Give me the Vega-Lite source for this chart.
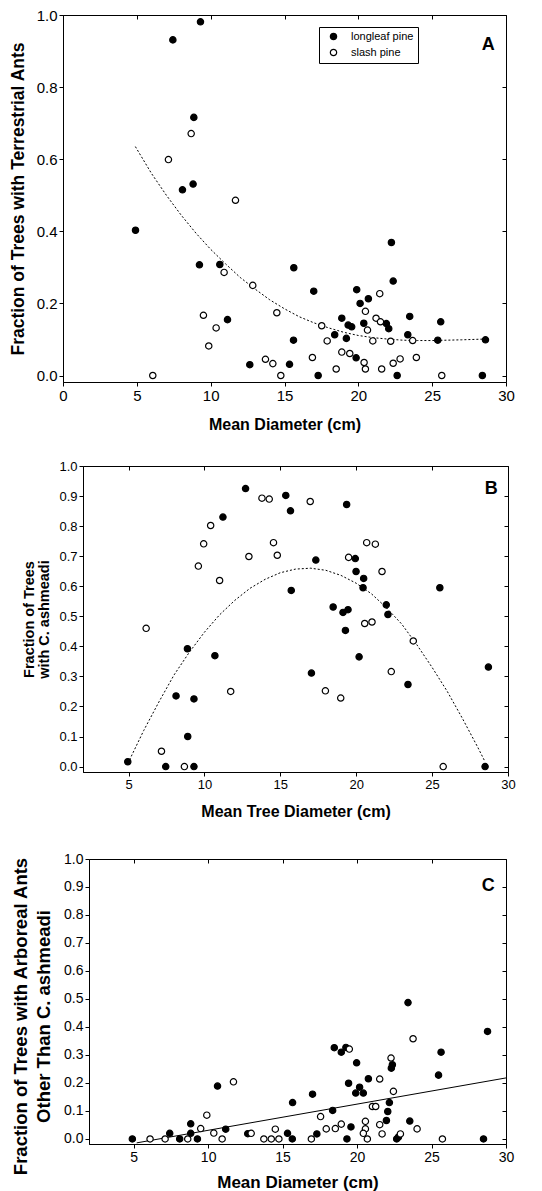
{
  "$schema": "https://vega.github.io/schema/vega-lite/v6.json",
  "background": "white",
  "padding": {"left": 0, "top": 7, "right": 0, "bottom": 0},
  "config": {
    "view": {"stroke": "black", "strokeWidth": 1},
    "font": "Liberation Sans",
    "axis": {"grid": false, "domainColor": "black", "tickColor": "black", "labelColor": "black", "titleColor": "black", "labelFont": "Liberation Sans", "titleFont": "Liberation Sans", "titleFontWeight": "bold", "tickSize": 4, "labelPadding": 2, "labelFlush": false, "labelOverlap": false}
  },
  "datasets": {
    "ptsA": [
      {"diameter": 7.44, "fraction": 0.931, "pine": "longleaf pine"},
      {"diameter": 9.31, "fraction": 0.981, "pine": "longleaf pine"},
      {"diameter": 8.86, "fraction": 0.716, "pine": "longleaf pine"},
      {"diameter": 8.09, "fraction": 0.515, "pine": "longleaf pine"},
      {"diameter": 8.81, "fraction": 0.531, "pine": "longleaf pine"},
      {"diameter": 4.91, "fraction": 0.403, "pine": "longleaf pine"},
      {"diameter": 9.24, "fraction": 0.307, "pine": "longleaf pine"},
      {"diameter": 10.62, "fraction": 0.308, "pine": "longleaf pine"},
      {"diameter": 11.14, "fraction": 0.155, "pine": "longleaf pine"},
      {"diameter": 12.65, "fraction": 0.03, "pine": "longleaf pine"},
      {"diameter": 15.34, "fraction": 0.031, "pine": "longleaf pine"},
      {"diameter": 15.63, "fraction": 0.299, "pine": "longleaf pine"},
      {"diameter": 15.61, "fraction": 0.098, "pine": "longleaf pine"},
      {"diameter": 16.98, "fraction": 0.234, "pine": "longleaf pine"},
      {"diameter": 17.28, "fraction": 0.0, "pine": "longleaf pine"},
      {"diameter": 18.4, "fraction": 0.113, "pine": "longleaf pine"},
      {"diameter": 18.88, "fraction": 0.159, "pine": "longleaf pine"},
      {"diameter": 19.19, "fraction": 0.103, "pine": "longleaf pine"},
      {"diameter": 19.31, "fraction": 0.14, "pine": "longleaf pine"},
      {"diameter": 19.55, "fraction": 0.135, "pine": "longleaf pine"},
      {"diameter": 19.85, "fraction": 0.049, "pine": "longleaf pine"},
      {"diameter": 19.89, "fraction": 0.238, "pine": "longleaf pine"},
      {"diameter": 20.12, "fraction": 0.2, "pine": "longleaf pine"},
      {"diameter": 20.37, "fraction": 0.145, "pine": "longleaf pine"},
      {"diameter": 20.68, "fraction": 0.213, "pine": "longleaf pine"},
      {"diameter": 21.9, "fraction": 0.144, "pine": "longleaf pine"},
      {"diameter": 22.06, "fraction": 0.13, "pine": "longleaf pine"},
      {"diameter": 22.24, "fraction": 0.369, "pine": "longleaf pine"},
      {"diameter": 22.36, "fraction": 0.262, "pine": "longleaf pine"},
      {"diameter": 22.63, "fraction": 0.0, "pine": "longleaf pine"},
      {"diameter": 23.35, "fraction": 0.113, "pine": "longleaf pine"},
      {"diameter": 23.48, "fraction": 0.164, "pine": "longleaf pine"},
      {"diameter": 25.38, "fraction": 0.098, "pine": "longleaf pine"},
      {"diameter": 25.58, "fraction": 0.149, "pine": "longleaf pine"},
      {"diameter": 28.4, "fraction": 0.0, "pine": "longleaf pine"},
      {"diameter": 28.61, "fraction": 0.099, "pine": "longleaf pine"},
      {"diameter": 8.68, "fraction": 0.671, "pine": "slash pine"},
      {"diameter": 7.14, "fraction": 0.599, "pine": "slash pine"},
      {"diameter": 11.68, "fraction": 0.486, "pine": "slash pine"},
      {"diameter": 6.08, "fraction": 0.0, "pine": "slash pine"},
      {"diameter": 10.91, "fraction": 0.286, "pine": "slash pine"},
      {"diameter": 9.51, "fraction": 0.167, "pine": "slash pine"},
      {"diameter": 10.37, "fraction": 0.132, "pine": "slash pine"},
      {"diameter": 9.87, "fraction": 0.082, "pine": "slash pine"},
      {"diameter": 12.85, "fraction": 0.25, "pine": "slash pine"},
      {"diameter": 13.71, "fraction": 0.045, "pine": "slash pine"},
      {"diameter": 14.21, "fraction": 0.033, "pine": "slash pine"},
      {"diameter": 14.48, "fraction": 0.174, "pine": "slash pine"},
      {"diameter": 14.75, "fraction": 0.0, "pine": "slash pine"},
      {"diameter": 16.89, "fraction": 0.05, "pine": "slash pine"},
      {"diameter": 17.52, "fraction": 0.138, "pine": "slash pine"},
      {"diameter": 17.89, "fraction": 0.096, "pine": "slash pine"},
      {"diameter": 18.5, "fraction": 0.018, "pine": "slash pine"},
      {"diameter": 18.88, "fraction": 0.065, "pine": "slash pine"},
      {"diameter": 19.42, "fraction": 0.061, "pine": "slash pine"},
      {"diameter": 20.39, "fraction": 0.036, "pine": "slash pine"},
      {"diameter": 20.48, "fraction": 0.178, "pine": "slash pine"},
      {"diameter": 20.48, "fraction": 0.018, "pine": "slash pine"},
      {"diameter": 20.62, "fraction": 0.126, "pine": "slash pine"},
      {"diameter": 20.98, "fraction": 0.096, "pine": "slash pine"},
      {"diameter": 21.2, "fraction": 0.159, "pine": "slash pine"},
      {"diameter": 21.45, "fraction": 0.227, "pine": "slash pine"},
      {"diameter": 21.5, "fraction": 0.149, "pine": "slash pine"},
      {"diameter": 21.58, "fraction": 0.018, "pine": "slash pine"},
      {"diameter": 22.19, "fraction": 0.095, "pine": "slash pine"},
      {"diameter": 22.36, "fraction": 0.034, "pine": "slash pine"},
      {"diameter": 22.83, "fraction": 0.046, "pine": "slash pine"},
      {"diameter": 23.68, "fraction": 0.097, "pine": "slash pine"},
      {"diameter": 23.93, "fraction": 0.05, "pine": "slash pine"},
      {"diameter": 25.65, "fraction": 0.0, "pine": "slash pine"}
    ],
    "fitA": [
      {"diameter": 4.9, "fraction": 0.635},
      {"diameter": 6, "fraction": 0.56},
      {"diameter": 7, "fraction": 0.5},
      {"diameter": 8, "fraction": 0.445},
      {"diameter": 9, "fraction": 0.395},
      {"diameter": 10, "fraction": 0.35},
      {"diameter": 11, "fraction": 0.31},
      {"diameter": 12, "fraction": 0.272},
      {"diameter": 13, "fraction": 0.24},
      {"diameter": 14, "fraction": 0.21},
      {"diameter": 15, "fraction": 0.185},
      {"diameter": 16, "fraction": 0.163},
      {"diameter": 17, "fraction": 0.146},
      {"diameter": 18, "fraction": 0.132},
      {"diameter": 19, "fraction": 0.12},
      {"diameter": 20, "fraction": 0.111},
      {"diameter": 21, "fraction": 0.105},
      {"diameter": 22, "fraction": 0.101},
      {"diameter": 23, "fraction": 0.098},
      {"diameter": 24, "fraction": 0.097},
      {"diameter": 25, "fraction": 0.097},
      {"diameter": 26, "fraction": 0.098},
      {"diameter": 27, "fraction": 0.099},
      {"diameter": 28.5, "fraction": 0.101}
    ],
    "ptsB": [
      {"diameter": 12.71, "fraction": 0.925, "pine": "longleaf pine"},
      {"diameter": 15.36, "fraction": 0.902, "pine": "longleaf pine"},
      {"diameter": 15.67, "fraction": 0.851, "pine": "longleaf pine"},
      {"diameter": 19.37, "fraction": 0.872, "pine": "longleaf pine"},
      {"diameter": 11.22, "fraction": 0.83, "pine": "longleaf pine"},
      {"diameter": 17.34, "fraction": 0.687, "pine": "longleaf pine"},
      {"diameter": 19.94, "fraction": 0.692, "pine": "longleaf pine"},
      {"diameter": 19.99, "fraction": 0.649, "pine": "longleaf pine"},
      {"diameter": 20.49, "fraction": 0.626, "pine": "longleaf pine"},
      {"diameter": 15.72, "fraction": 0.586, "pine": "longleaf pine"},
      {"diameter": 20.45, "fraction": 0.595, "pine": "longleaf pine"},
      {"diameter": 25.51, "fraction": 0.595, "pine": "longleaf pine"},
      {"diameter": 8.88, "fraction": 0.392, "pine": "longleaf pine"},
      {"diameter": 10.69, "fraction": 0.369, "pine": "longleaf pine"},
      {"diameter": 8.13, "fraction": 0.235, "pine": "longleaf pine"},
      {"diameter": 9.31, "fraction": 0.225, "pine": "longleaf pine"},
      {"diameter": 8.9, "fraction": 0.1, "pine": "longleaf pine"},
      {"diameter": 4.95, "fraction": 0.016, "pine": "longleaf pine"},
      {"diameter": 7.45, "fraction": 0.0, "pine": "longleaf pine"},
      {"diameter": 9.31, "fraction": 0.0, "pine": "longleaf pine"},
      {"diameter": 18.48, "fraction": 0.531, "pine": "longleaf pine"},
      {"diameter": 19.13, "fraction": 0.513, "pine": "longleaf pine"},
      {"diameter": 19.46, "fraction": 0.522, "pine": "longleaf pine"},
      {"diameter": 19.29, "fraction": 0.453, "pine": "longleaf pine"},
      {"diameter": 21.98, "fraction": 0.538, "pine": "longleaf pine"},
      {"diameter": 22.09, "fraction": 0.506, "pine": "longleaf pine"},
      {"diameter": 17.05, "fraction": 0.311, "pine": "longleaf pine"},
      {"diameter": 20.19, "fraction": 0.365, "pine": "longleaf pine"},
      {"diameter": 23.41, "fraction": 0.273, "pine": "longleaf pine"},
      {"diameter": 28.49, "fraction": 0.0, "pine": "longleaf pine"},
      {"diameter": 28.71, "fraction": 0.331, "pine": "longleaf pine"},
      {"diameter": 13.79, "fraction": 0.893, "pine": "slash pine"},
      {"diameter": 14.27, "fraction": 0.89, "pine": "slash pine"},
      {"diameter": 16.97, "fraction": 0.882, "pine": "slash pine"},
      {"diameter": 10.41, "fraction": 0.802, "pine": "slash pine"},
      {"diameter": 9.95, "fraction": 0.741, "pine": "slash pine"},
      {"diameter": 9.6, "fraction": 0.667, "pine": "slash pine"},
      {"diameter": 11.0, "fraction": 0.619, "pine": "slash pine"},
      {"diameter": 12.93, "fraction": 0.699, "pine": "slash pine"},
      {"diameter": 14.55, "fraction": 0.745, "pine": "slash pine"},
      {"diameter": 14.8, "fraction": 0.703, "pine": "slash pine"},
      {"diameter": 19.5, "fraction": 0.696, "pine": "slash pine"},
      {"diameter": 20.69, "fraction": 0.745, "pine": "slash pine"},
      {"diameter": 21.26, "fraction": 0.74, "pine": "slash pine"},
      {"diameter": 21.7, "fraction": 0.649, "pine": "slash pine"},
      {"diameter": 6.16, "fraction": 0.46, "pine": "slash pine"},
      {"diameter": 11.73, "fraction": 0.25, "pine": "slash pine"},
      {"diameter": 7.17, "fraction": 0.051, "pine": "slash pine"},
      {"diameter": 8.68, "fraction": 0.0, "pine": "slash pine"},
      {"diameter": 20.56, "fraction": 0.476, "pine": "slash pine"},
      {"diameter": 21.04, "fraction": 0.481, "pine": "slash pine"},
      {"diameter": 23.76, "fraction": 0.418, "pine": "slash pine"},
      {"diameter": 17.97, "fraction": 0.252, "pine": "slash pine"},
      {"diameter": 18.98, "fraction": 0.228, "pine": "slash pine"},
      {"diameter": 22.31, "fraction": 0.316, "pine": "slash pine"},
      {"diameter": 25.73, "fraction": 0.0, "pine": "slash pine"}
    ],
    "fitB": [
      {"diameter": 4.95, "fraction": 0.01},
      {"diameter": 6, "fraction": 0.12},
      {"diameter": 7, "fraction": 0.215},
      {"diameter": 8, "fraction": 0.305},
      {"diameter": 9, "fraction": 0.38},
      {"diameter": 10, "fraction": 0.447},
      {"diameter": 11, "fraction": 0.505},
      {"diameter": 12, "fraction": 0.553},
      {"diameter": 13, "fraction": 0.593},
      {"diameter": 14, "fraction": 0.623},
      {"diameter": 15, "fraction": 0.645},
      {"diameter": 16, "fraction": 0.657},
      {"diameter": 17, "fraction": 0.66},
      {"diameter": 18, "fraction": 0.653},
      {"diameter": 19, "fraction": 0.636},
      {"diameter": 20, "fraction": 0.61},
      {"diameter": 21, "fraction": 0.575},
      {"diameter": 22, "fraction": 0.528},
      {"diameter": 23, "fraction": 0.474},
      {"diameter": 24, "fraction": 0.405},
      {"diameter": 25, "fraction": 0.33},
      {"diameter": 26, "fraction": 0.25},
      {"diameter": 27, "fraction": 0.16},
      {"diameter": 28, "fraction": 0.065},
      {"diameter": 28.45, "fraction": 0.02}
    ],
    "ptsC": [
      {"diameter": 23.42, "fraction": 0.487, "pine": "longleaf pine"},
      {"diameter": 28.76, "fraction": 0.384, "pine": "longleaf pine"},
      {"diameter": 18.47, "fraction": 0.326, "pine": "longleaf pine"},
      {"diameter": 18.94, "fraction": 0.31, "pine": "longleaf pine"},
      {"diameter": 19.25, "fraction": 0.327, "pine": "longleaf pine"},
      {"diameter": 19.97, "fraction": 0.272, "pine": "longleaf pine"},
      {"diameter": 22.37, "fraction": 0.265, "pine": "longleaf pine"},
      {"diameter": 22.3, "fraction": 0.253, "pine": "longleaf pine"},
      {"diameter": 25.64, "fraction": 0.31, "pine": "longleaf pine"},
      {"diameter": 25.47, "fraction": 0.228, "pine": "longleaf pine"},
      {"diameter": 19.43, "fraction": 0.199, "pine": "longleaf pine"},
      {"diameter": 20.17, "fraction": 0.185, "pine": "longleaf pine"},
      {"diameter": 20.76, "fraction": 0.215, "pine": "longleaf pine"},
      {"diameter": 19.91, "fraction": 0.164, "pine": "longleaf pine"},
      {"diameter": 20.42, "fraction": 0.164, "pine": "longleaf pine"},
      {"diameter": 10.63, "fraction": 0.189, "pine": "longleaf pine"},
      {"diameter": 17.01, "fraction": 0.16, "pine": "longleaf pine"},
      {"diameter": 15.67, "fraction": 0.13, "pine": "longleaf pine"},
      {"diameter": 22.17, "fraction": 0.13, "pine": "longleaf pine"},
      {"diameter": 18.36, "fraction": 0.102, "pine": "longleaf pine"},
      {"diameter": 22.06, "fraction": 0.098, "pine": "longleaf pine"},
      {"diameter": 21.97, "fraction": 0.066, "pine": "longleaf pine"},
      {"diameter": 23.54, "fraction": 0.064, "pine": "longleaf pine"},
      {"diameter": 8.83, "fraction": 0.054, "pine": "longleaf pine"},
      {"diameter": 19.59, "fraction": 0.043, "pine": "longleaf pine"},
      {"diameter": 11.18, "fraction": 0.035, "pine": "longleaf pine"},
      {"diameter": 7.42, "fraction": 0.02, "pine": "longleaf pine"},
      {"diameter": 8.83, "fraction": 0.02, "pine": "longleaf pine"},
      {"diameter": 12.66, "fraction": 0.019, "pine": "longleaf pine"},
      {"diameter": 15.33, "fraction": 0.02, "pine": "longleaf pine"},
      {"diameter": 17.3, "fraction": 0.018, "pine": "longleaf pine"},
      {"diameter": 22.78, "fraction": 0.007, "pine": "longleaf pine"},
      {"diameter": 4.91, "fraction": 0.0, "pine": "longleaf pine"},
      {"diameter": 8.09, "fraction": 0.0, "pine": "longleaf pine"},
      {"diameter": 9.28, "fraction": 0.0, "pine": "longleaf pine"},
      {"diameter": 15.65, "fraction": 0.0, "pine": "longleaf pine"},
      {"diameter": 19.32, "fraction": 0.0, "pine": "longleaf pine"},
      {"diameter": 22.66, "fraction": 0.0, "pine": "longleaf pine"},
      {"diameter": 28.49, "fraction": 0.0, "pine": "longleaf pine"},
      {"diameter": 23.76, "fraction": 0.358, "pine": "slash pine"},
      {"diameter": 19.48, "fraction": 0.321, "pine": "slash pine"},
      {"diameter": 22.28, "fraction": 0.289, "pine": "slash pine"},
      {"diameter": 21.52, "fraction": 0.214, "pine": "slash pine"},
      {"diameter": 22.44, "fraction": 0.17, "pine": "slash pine"},
      {"diameter": 11.7, "fraction": 0.204, "pine": "slash pine"},
      {"diameter": 21.03, "fraction": 0.116, "pine": "slash pine"},
      {"diameter": 21.25, "fraction": 0.116, "pine": "slash pine"},
      {"diameter": 9.91, "fraction": 0.085, "pine": "slash pine"},
      {"diameter": 17.55, "fraction": 0.08, "pine": "slash pine"},
      {"diameter": 20.56, "fraction": 0.063, "pine": "slash pine"},
      {"diameter": 18.94, "fraction": 0.053, "pine": "slash pine"},
      {"diameter": 21.52, "fraction": 0.051, "pine": "slash pine"},
      {"diameter": 17.93, "fraction": 0.036, "pine": "slash pine"},
      {"diameter": 18.54, "fraction": 0.037, "pine": "slash pine"},
      {"diameter": 9.5, "fraction": 0.037, "pine": "slash pine"},
      {"diameter": 14.51, "fraction": 0.035, "pine": "slash pine"},
      {"diameter": 24.03, "fraction": 0.036, "pine": "slash pine"},
      {"diameter": 20.56, "fraction": 0.036, "pine": "slash pine"},
      {"diameter": 10.38, "fraction": 0.021, "pine": "slash pine"},
      {"diameter": 12.89, "fraction": 0.02, "pine": "slash pine"},
      {"diameter": 20.42, "fraction": 0.02, "pine": "slash pine"},
      {"diameter": 21.68, "fraction": 0.018, "pine": "slash pine"},
      {"diameter": 22.91, "fraction": 0.018, "pine": "slash pine"},
      {"diameter": 6.1, "fraction": 0.0, "pine": "slash pine"},
      {"diameter": 7.11, "fraction": 0.0, "pine": "slash pine"},
      {"diameter": 8.63, "fraction": 0.0, "pine": "slash pine"},
      {"diameter": 10.94, "fraction": 0.0, "pine": "slash pine"},
      {"diameter": 13.74, "fraction": 0.0, "pine": "slash pine"},
      {"diameter": 14.24, "fraction": 0.0, "pine": "slash pine"},
      {"diameter": 14.75, "fraction": 0.0, "pine": "slash pine"},
      {"diameter": 16.93, "fraction": 0.0, "pine": "slash pine"},
      {"diameter": 20.69, "fraction": 0.0, "pine": "slash pine"},
      {"diameter": 25.73, "fraction": 0.0, "pine": "slash pine"}
    ],
    "fitC": [
      {"diameter": 5.2, "fraction": -0.014},
      {"diameter": 30, "fraction": 0.218}
    ]
  },
  "spacing": 0,
  "resolve": {"scale": {"fill": "independent"}},
  "vconcat": [
    {
      "spacing": 0,
      "resolve": {"scale": {"fill": "independent"}},
      "hconcat": [
        {"width": 8, "height": 444, "view": {"stroke": null}, "data": {"values": []}, "mark": "point"},
        {
          "width": 443, "height": 367,
          "resolve": {"axis": {"x": "independent", "y": "independent"}},
          "layer": [
            {
              "data": {"name": "fitA"},
              "mark": {"type": "line", "color": "black", "strokeWidth": 1, "strokeDash": [2, 2]},
              "encoding": {
                "x": {"field": "diameter", "type": "quantitative", "scale": {"domain": [0, 30], "nice": false, "zero": false}, "axis": {"orient": "top", "labels": false, "title": null, "values": [0, 5, 10, 15, 20, 25, 30], "tickSize": -4, "domain": false}},
                "y": {"field": "fraction", "type": "quantitative", "scale": {"domain": [-0.018, 1.0], "nice": false, "zero": false}, "axis": {"orient": "right", "labels": false, "title": null, "values": [0, 0.2, 0.4, 0.6, 0.8, 1.0], "tickSize": -4, "domain": false}}
              }
            },
            {
              "data": {"name": "ptsA"},
              "mark": {"type": "point", "shape": "circle", "filled": true, "stroke": "black", "strokeWidth": 1.2, "size": 40, "opacity": 1},
              "encoding": {
                "x": {"field": "diameter", "type": "quantitative", "scale": {"domain": [0, 30], "nice": false, "zero": false}, "axis": {"orient": "bottom", "title": "Mean Diameter (cm)", "values": [0, 5, 10, 15, 20, 25, 30], "format": "d", "labelFontSize": 15, "titleFontSize": 16, "titlePadding": 13}},
                "y": {"field": "fraction", "type": "quantitative", "scale": {"domain": [-0.018, 1.0], "nice": false, "zero": false}, "axis": {"orient": "left", "title": "Fraction of Trees with Terrestrial Ants", "values": [0, 0.2, 0.4, 0.6, 0.8, 1.0], "format": ".1f", "labelFontSize": 15, "titleFontSize": 17.5, "titlePadding": 9}},
                "fill": {"field": "pine", "type": "nominal", "scale": {"domain": ["longleaf pine", "slash pine"], "range": ["black", "white"]},
                  "legend": {"orient": "none", "legendX": 256, "legendY": 12, "title": null, "strokeColor": "black", "fillColor": "white", "padding": 4, "labelFontSize": 11, "labelFont": "Liberation Sans", "labelColor": "black", "symbolType": "circle", "symbolSize": 40, "symbolStrokeColor": "black", "symbolStrokeWidth": 1.2, "symbolOffset": 5, "labelOffset": 12, "rowPadding": 3}}
              }
            },
            {
              "data": {"values": [{}]},
              "mark": {"type": "text", "fontSize": 18, "fontWeight": "bold", "font": "Liberation Sans", "color": "black"},
              "encoding": {
                "x": {"datum": 28.8, "type": "quantitative", "axis": null},
                "y": {"datum": 0.917, "type": "quantitative", "axis": null},
                "text": {"value": "A"}
              }
            }
          ]
        }
      ]
    },
    {
      "spacing": 0,
      "resolve": {"scale": {"fill": "independent"}},
      "hconcat": [
        {"width": 20, "height": 385, "view": {"stroke": null}, "data": {"values": []}, "mark": "point"},
        {
          "width": 425, "height": 306,
          "resolve": {"axis": {"x": "independent", "y": "independent"}},
          "layer": [
            {
              "data": {"name": "fitB"},
              "mark": {"type": "line", "color": "black", "strokeWidth": 1, "strokeDash": [2, 2]},
              "encoding": {
                "x": {"field": "diameter", "type": "quantitative", "scale": {"domain": [2, 30], "nice": false, "zero": false}, "axis": {"orient": "top", "labels": false, "title": null, "values": [5, 10, 15, 20, 25, 30], "tickSize": -4, "domain": false}},
                "y": {"field": "fraction", "type": "quantitative", "scale": {"domain": [-0.018, 1.0], "nice": false, "zero": false}, "axis": {"orient": "right", "labels": false, "title": null, "values": [0, 0.1, 0.2, 0.3, 0.4, 0.5, 0.6, 0.7, 0.8, 0.9, 1.0], "tickSize": -4, "domain": false}}
              }
            },
            {
              "data": {"name": "ptsB"},
              "mark": {"type": "point", "shape": "circle", "filled": true, "stroke": "black", "strokeWidth": 1.2, "size": 40, "opacity": 1},
              "encoding": {
                "x": {"field": "diameter", "type": "quantitative", "scale": {"domain": [2, 30], "nice": false, "zero": false}, "axis": {"orient": "bottom", "title": "Mean Tree Diameter (cm)", "values": [5, 10, 15, 20, 25, 30], "format": "d", "labelFontSize": 13, "titleFontSize": 16, "titlePadding": 12}},
                "y": {"field": "fraction", "type": "quantitative", "scale": {"domain": [-0.018, 1.0], "nice": false, "zero": false}, "axis": {"orient": "left", "title": ["Fraction of Trees", "with C. ashmeadi"], "values": [0, 0.1, 0.2, 0.3, 0.4, 0.5, 0.6, 0.7, 0.8, 0.9, 1.0], "format": ".1f", "labelFontSize": 13, "titleFontSize": 14.5, "titleLineHeight": 15, "titlePadding": 7.7}},
                "fill": {"field": "pine", "type": "nominal", "scale": {"domain": ["longleaf pine", "slash pine"], "range": ["black", "white"]}, "legend": null}
              }
            },
            {
              "data": {"values": [{}]},
              "mark": {"type": "text", "fontSize": 18, "fontWeight": "bold", "font": "Liberation Sans", "color": "black"},
              "encoding": {
                "x": {"datum": 28.9, "type": "quantitative", "axis": null},
                "y": {"datum": 0.925, "type": "quantitative", "axis": null},
                "text": {"value": "B"}
              }
            }
          ]
        }
      ]
    },
    {
      "spacing": 0,
      "resolve": {"scale": {"fill": "independent"}},
      "hconcat": [
        {"width": 10, "height": 10, "view": {"stroke": null}, "data": {"values": []}, "mark": "point"},
        {
          "width": 417, "height": 285,
          "resolve": {"axis": {"x": "independent", "y": "independent"}},
          "layer": [
            {
              "data": {"name": "fitC"},
              "mark": {"type": "line", "color": "black", "strokeWidth": 1},
              "encoding": {
                "x": {"field": "diameter", "type": "quantitative", "scale": {"domain": [2, 30], "nice": false, "zero": false}, "axis": {"orient": "top", "labels": false, "title": null, "values": [5, 10, 15, 20, 25, 30], "tickSize": -4, "domain": false}},
                "y": {"field": "fraction", "type": "quantitative", "scale": {"domain": [-0.018, 1.0], "nice": false, "zero": false}, "axis": {"orient": "right", "labels": false, "title": null, "values": [0, 0.1, 0.2, 0.3, 0.4, 0.5, 0.6, 0.7, 0.8, 0.9, 1.0], "tickSize": -4, "domain": false}}
              }
            },
            {
              "data": {"name": "ptsC"},
              "mark": {"type": "point", "shape": "circle", "filled": true, "stroke": "black", "strokeWidth": 1.2, "size": 40, "opacity": 1},
              "encoding": {
                "x": {"field": "diameter", "type": "quantitative", "scale": {"domain": [2, 30], "nice": false, "zero": false}, "axis": {"orient": "bottom", "title": "Mean Diameter (cm)", "values": [5, 10, 15, 20, 25, 30], "format": "d", "labelFontSize": 14, "titleFontSize": 17, "titlePadding": 10.5}},
                "y": {"field": "fraction", "type": "quantitative", "scale": {"domain": [-0.018, 1.0], "nice": false, "zero": false}, "axis": {"orient": "left", "title": ["Fraction of Trees with Arboreal Ants", "Other Than C. ashmeadi"], "values": [0, 0.1, 0.2, 0.3, 0.4, 0.5, 0.6, 0.7, 0.8, 0.9, 1.0], "format": ".1f", "labelFontSize": 14, "titleFontSize": 18.5, "titleLineHeight": 23, "titlePadding": 10.5, "titleY": 157}},
                "fill": {"field": "pine", "type": "nominal", "scale": {"domain": ["longleaf pine", "slash pine"], "range": ["black", "white"]}, "legend": null}
              }
            },
            {
              "data": {"values": [{}]},
              "mark": {"type": "text", "fontSize": 18, "fontWeight": "bold", "font": "Liberation Sans", "color": "black"},
              "encoding": {
                "x": {"datum": 28.8, "type": "quantitative", "axis": null},
                "y": {"datum": 0.904, "type": "quantitative", "axis": null},
                "text": {"value": "C"}
              }
            }
          ]
        }
      ]
    }
  ]
}
